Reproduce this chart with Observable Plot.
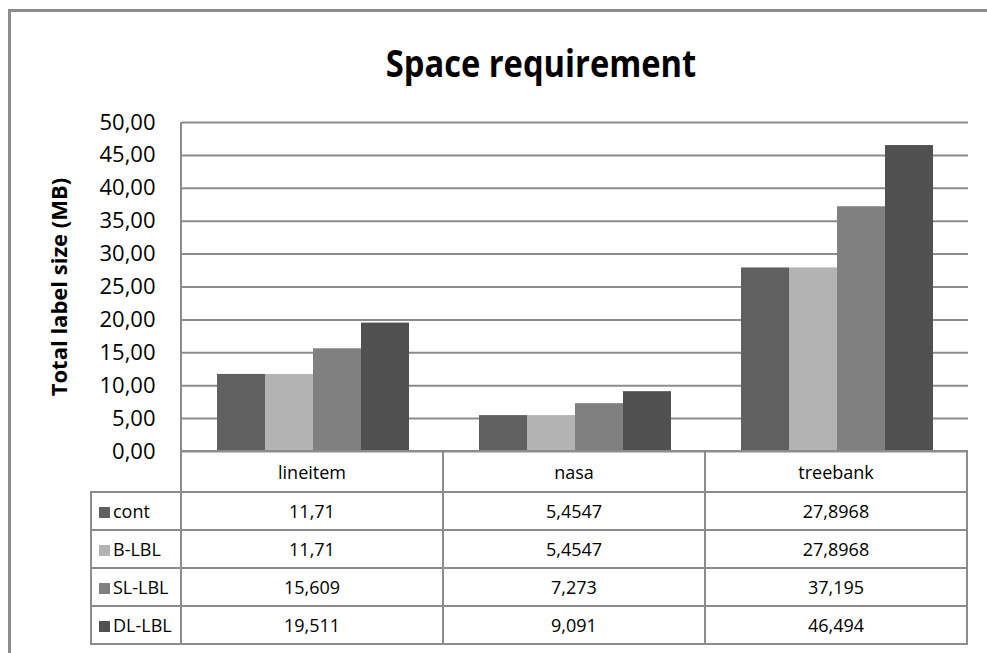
<!DOCTYPE html>
<html>
<head>
<meta charset="utf-8">
<script src="https://cdn.jsdelivr.net/npm/d3@7"></script>
<script src="https://cdn.jsdelivr.net/npm/@observablehq/plot@0.6"></script>
<style>
  html, body { margin: 0; padding: 0; background: white; overflow: hidden; }
  #wrap { position: relative; width: 987px; height: 653px; overflow: hidden; background: white; font-family: 'Open Sans', sans-serif; }
  #frame { position: absolute; left: 8px; top: 9px; right: -20px; bottom: -20px; border-top: 3px solid #8c8c8c; border-left: 3px solid #8c8c8c; }
  #title { position: absolute; left: 241px; width: 600px; top: 43px; line-height: 38px; font-size: 38px; font-weight: bold; text-align: center; color: #000; transform: scaleX(0.86); transform-origin: 300px 0; }
  #chart { position: absolute; left: 0; top: 0; }
  #axisline { position: absolute; left: 180px; top: 122px; width: 2px; height: 330px; background: #8c8c8c; }
  #tbl { position: absolute; left: 90px; top: 450px; border-collapse: collapse; table-layout: fixed; font-size: 18px; color: #000; }
  #tbl td { border: 2px solid #8c8c8c; text-align: center; padding: 0; }
  #tbl td.blank { border: none; }
  #tbl td.leg { text-align: left; padding-left: 7px; white-space: nowrap; }
  #tbl td.leg span.sw { display: inline-block; width: 11px; height: 11px; margin-right: 3px; vertical-align: 0px; }
  #tbl tr.head td { height: 39px; }
  #tbl tr.body td { height: 36px; }
  g[aria-label="y-axis label"] text { font-size: 22px; font-weight: bold; }
</style>
</head>
<body>
<div id="wrap">
  <div id="frame"></div>
  <div id="title">Space requirement</div>
  <div id="chart"></div>
  <div id="axisline"></div>
  <table id="tbl"></table>
</div>
<script>
// ---- data ----
const categories = ["lineitem", "nasa", "treebank"];
const series = ["cont", "B-LBL", "SL-LBL", "DL-LBL"];
const contValues  = [11.71, 5.4547, 27.8968];
const bLblValues  = [11.71, 5.4547, 27.8968];
const slLblValues = [15.609, 7.273, 37.195];
const dlLblValues = [19.511, 9.091, 46.494];
const seriesColors = ["#606060", "#b3b3b3", "#808080", "#505050"];
const yTickValues = [0, 5, 10, 15, 20, 25, 30, 35, 40, 45, 50];
const yLabel = "Total label size (MB)";
const titleText = "Space requirement";

const valuesBySeries = [contValues, bLblValues, slLblValues, dlLblValues];
const rows = [];
categories.forEach((c, ci) => {
  series.forEach((s, si) => rows.push({category: c, series: s, value: valuesBySeries[si][ci]}));
});
const fmtTick = d => d.toFixed(2).replace(".", ",");
const fmtVal = d => String(d).replace(".", ",");

document.getElementById("title").textContent = titleText;

const chart = Plot.plot({
  width: 987,
  height: 480,
  marginTop: 122,
  marginBottom: 29,
  marginLeft: 181,
  marginRight: 19,
  style: {background: "transparent", fontFamily: "'Open Sans', sans-serif", fontSize: "22px", color: "#000"},
  facet: {data: rows, x: "category"},
  fx: {domain: categories, padding: 0, axis: null, label: null},
  x: {domain: series, paddingInner: 0, paddingOuter: 0.72, axis: null, label: null},
  y: {domain: [0, 50], ticks: yTickValues, tickFormat: fmtTick, tickSize: 0, tickPadding: 27,
      label: yLabel, labelAnchor: "center", labelOffset: 131, labelArrow: false},
  color: {domain: series, range: seriesColors},
  marks: [
    Plot.ruleY(yTickValues, {stroke: "#8c8c8c", strokeWidth: 2}),
    Plot.barY(rows, {x: "series", y: "value", fill: "series"})
  ]
});
document.getElementById("chart").appendChild(chart);

// ---- data table ----
const tbl = document.getElementById("tbl");
const colgroup = document.createElement("colgroup");
[90, 262, 262, 262].forEach(w => { const col = document.createElement("col"); col.style.width = w + "px"; colgroup.appendChild(col); });
tbl.appendChild(colgroup);
const head = document.createElement("tr");
head.className = "head";
const blank = document.createElement("td"); blank.className = "blank"; head.appendChild(blank);
categories.forEach(c => { const td = document.createElement("td"); td.textContent = c; head.appendChild(td); });
tbl.appendChild(head);
series.forEach((s, si) => {
  const tr = document.createElement("tr");
  tr.className = "body";
  const leg = document.createElement("td");
  leg.className = "leg";
  const sw = document.createElement("span"); sw.className = "sw"; sw.style.background = seriesColors[si];
  leg.appendChild(sw);
  leg.appendChild(document.createTextNode(s));
  tr.appendChild(leg);
  valuesBySeries[si].forEach(v => { const td = document.createElement("td"); td.textContent = fmtVal(v); tr.appendChild(td); });
  tbl.appendChild(tr);
});
</script>
</body>
</html>
